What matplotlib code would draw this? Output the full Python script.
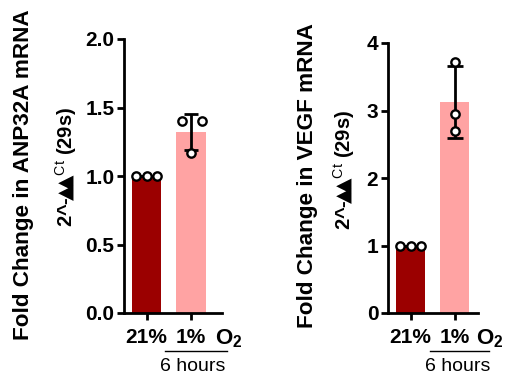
import matplotlib
matplotlib.use('Agg')
import matplotlib.pyplot as plt
import numpy as np

# ---- data ----
groups = ['21%', '1%']
anp32a_pts = [[1.00, 1.00, 1.00], [1.40, 1.40, 1.17]]
vegf_pts = [[1.00, 1.00, 1.00], [3.72, 2.95, 2.70]]
anp32a_ticks = [0.0, 0.5, 1.0, 1.5, 2.0]
vegf_ticks = [0, 1, 2, 3, 4]

bar_colors = ['#9B0000', '#FFA3A3']

plt.rcParams['font.family'] = ['Liberation Sans', 'DejaVu Sans']
plt.rcParams['mathtext.fontset'] = 'custom'
plt.rcParams['mathtext.rm'] = 'Liberation Sans:bold'
plt.rcParams['mathtext.it'] = 'Liberation Sans:bold'
plt.rcParams['mathtext.bf'] = 'Liberation Sans:bold'
plt.rcParams['mathtext.sf'] = 'DejaVu Sans:bold'
plt.rcParams['mathtext.cal'] = 'Liberation Sans'

fig = plt.figure(figsize=(5.05, 3.77), dpi=100)
W, H = 505, 377


def px_axes(x0, x1, y_top, y_bot):
    return fig.add_axes([x0 / W, 1 - y_bot / H, (x1 - x0) / W, (y_bot - y_top) / H])


def panel(ax, pts, ticks, fmt, offsets, xlim, capsize, line_x, o2_x, hours_x):
    x = np.arange(len(groups))
    means = [np.mean(p) for p in pts]
    sds = [np.std(p, ddof=1) for p in pts]
    ax.bar(x, means, width=0.66, color=bar_colors, zorder=1)
    ax.errorbar(x, means, yerr=sds, fmt='none', ecolor='black', elinewidth=2,
                capsize=capsize, capthick=2, zorder=2)
    for i, p in enumerate(pts):
        ax.plot(x[i] + np.array(offsets[i]), p, 'o', ms=6, mfc='white',
                mec='black', mew=1.7, zorder=3, clip_on=False)
    ax.set_xlim(*xlim)
    ax.set_ylim(ticks[0], ticks[-1])
    ax.set_yticks(ticks)
    ax.set_yticklabels([fmt.format(t) for t in ticks], fontsize=15, fontweight='bold')
    ax.set_xticks(x)
    ax.set_xticklabels(groups, fontsize=15, fontweight='bold')
    for s in ['top', 'right']:
        ax.spines[s].set_visible(False)
    for s in ['left', 'bottom']:
        ax.spines[s].set_linewidth(2)
    ax.tick_params(axis='y', length=5, width=2, pad=2)
    ax.tick_params(axis='x', length=5, width=2, pad=6)
    tr = ax.get_xaxis_transform()
    ax.text(o2_x, -0.095, r'O$_2$', transform=tr, ha='left', va='center',
            fontsize=16, fontweight='bold', clip_on=False)
    ax.plot(line_x, [-0.139, -0.139], color='black', lw=1, transform=tr, clip_on=False)
    ax.text(hours_x, -0.197, '6 hours', transform=tr, ha='center', va='center',
            fontsize=14)


ax1 = px_axes(124, 222, 39, 313)
panel(ax1, anp32a_pts, anp32a_ticks, '{:.1f}',
      [[-0.23, 0.0, 0.23], [-0.21, 0.24, 0.0]], (-0.51, 1.70), 5,
      [0.42, 1.81], 1.54, 1.05)

ax2 = px_axes(388, 478, 43, 313)
panel(ax2, vegf_pts, vegf_ticks, '{:d}',
      [[-0.23, 0.0, 0.23], [0.0, 0.0, 0.0]], (-0.51, 1.53), 6,
      [0.44, 1.78], 1.49, 1.08)

# y labels
lab2 = r'2^-$\!\mathsf{▲}\!\!\mathsf{▲}^{\mathcal{Ct}}$ (29s)'
fig.text(24 / W, 1 - 175 / H, 'Fold Change in ANP32A mRNA', rotation=90,
         ha='center', va='center', fontsize=16.2, fontweight='bold')
fig.text(66 / W, 1 - 167 / H, lab2, rotation=90,
         ha='center', va='center', fontsize=14.5, fontweight='bold')
fig.text(307 / W, 1 - 176 / H, 'Fold Change in VEGF mRNA', rotation=90,
         ha='center', va='center', fontsize=16.2, fontweight='bold')
fig.text(344 / W, 1 - 170 / H, lab2, rotation=90,
         ha='center', va='center', fontsize=14.5, fontweight='bold')

fig.savefig('out.png', dpi=100)
